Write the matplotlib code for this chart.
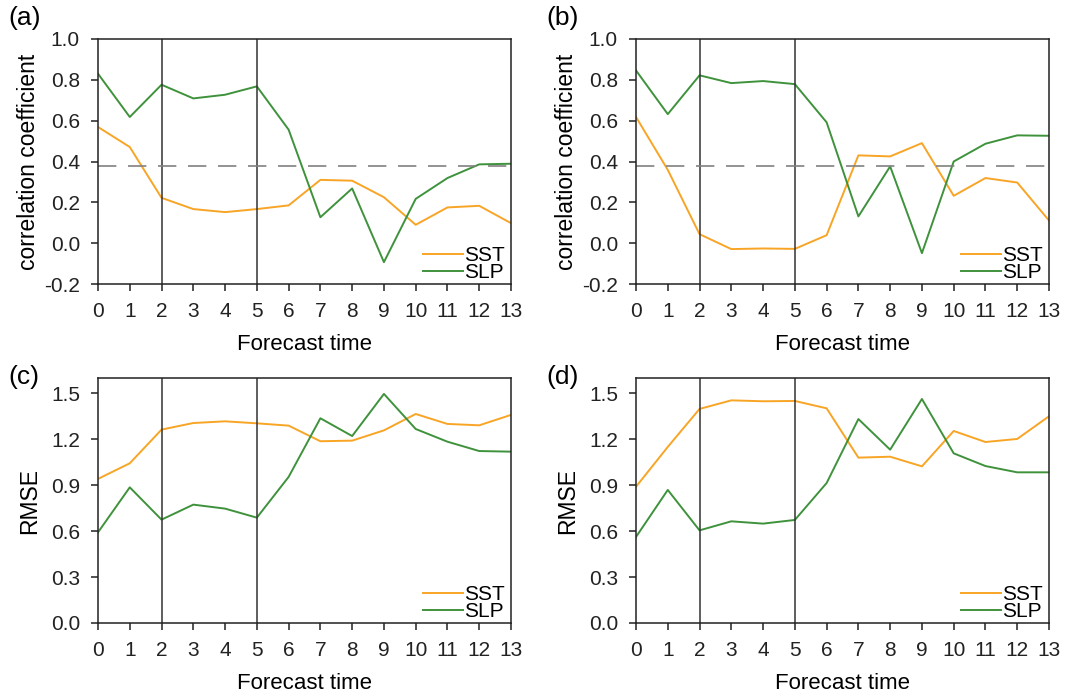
import matplotlib
matplotlib.use('Agg')
import matplotlib.pyplot as plt
import numpy as np

plt.rcParams['font.family'] = ['Liberation Sans', 'DejaVu Sans']

# forecast lead times
lead = list(range(14))

# (a) correlation coefficient
corr_a_sst = [0.569, 0.471, 0.222, 0.167, 0.152, 0.167, 0.185, 0.310, 0.306, 0.225, 0.090, 0.175, 0.183, 0.098]
corr_a_slp = [0.830, 0.618, 0.776, 0.709, 0.727, 0.768, 0.556, 0.127, 0.268, -0.093, 0.217, 0.319, 0.386, 0.389]

# (b) correlation coefficient
corr_b_sst = [0.618, 0.359, 0.044, -0.029, -0.026, -0.028, 0.039, 0.430, 0.425, 0.490, 0.232, 0.319, 0.297, 0.111]
corr_b_slp = [0.846, 0.632, 0.822, 0.784, 0.794, 0.779, 0.592, 0.131, 0.376, -0.049, 0.400, 0.487, 0.528, 0.526]

# (c) RMSE
rmse_c_sst = [0.941, 1.043, 1.263, 1.306, 1.317, 1.304, 1.289, 1.187, 1.191, 1.258, 1.365, 1.300, 1.291, 1.359]
rmse_c_slp = [0.592, 0.886, 0.675, 0.773, 0.747, 0.688, 0.954, 1.337, 1.221, 1.496, 1.267, 1.184, 1.123, 1.119]

# (d) RMSE
rmse_d_sst = [0.890, 1.150, 1.398, 1.454, 1.448, 1.450, 1.402, 1.080, 1.086, 1.023, 1.254, 1.182, 1.202, 1.350]
rmse_d_slp = [0.562, 0.869, 0.605, 0.664, 0.649, 0.673, 0.914, 1.332, 1.132, 1.463, 1.108, 1.025, 0.984, 0.984]

sig_level = 0.38
split_lines = [2, 5]
panel_labels = ['(a)', '(b)', '(c)', '(d)']

orange = '#F8A526'
green = '#3F923C'

fig = plt.figure(figsize=(10.79, 6.95), dpi=100)

W, H = 1079, 695
boxes = [(98, 39), (636, 39), (98, 378), (636, 378)]
label_pos = [(8, 18), (546, 18), (8, 377), (546, 377)]
aw, ah = 413, 245

panels = [
    (corr_a_sst, corr_a_slp, 'corr'),
    (corr_b_sst, corr_b_slp, 'corr'),
    (rmse_c_sst, rmse_c_slp, 'rmse'),
    (rmse_d_sst, rmse_d_slp, 'rmse'),
]

for i, ((sst, slp, kind), (x0, y0)) in enumerate(zip(panels, boxes)):
    ax = fig.add_axes([x0 / W, 1 - (y0 + ah) / H, aw / W, ah / H])
    ax.plot(lead, sst, color=orange, lw=1.4, label='SST')
    ax.plot(lead, slp, color=green, lw=1.4, label='SLP')
    for v in split_lines:
        ax.axvline(v, color='#333333', lw=1.1)
    ax.set_xlim(0, 13)
    ax.set_xticks(lead)
    if kind == 'corr':
        ax.axhline(sig_level, color='#808080', lw=1.2, dashes=(11, 7))
        ax.set_ylim(-0.2, 1.0)
        yt = np.arange(-0.2, 1.01, 0.2)
        ax.set_yticks(yt)
        ax.set_yticklabels(['%.1f' % v for v in yt])
        ax.set_ylabel('correlation coefficient', fontsize=16.5, labelpad=3)
    else:
        ax.set_ylim(0, 1.6)
        yt = np.arange(0, 1.51, 0.3)
        ax.set_yticks(yt)
        ax.set_yticklabels(['%.1f' % v for v in yt])
        ax.set_ylabel('RMSE', fontsize=16.5, labelpad=7)
    ax.set_xlabel('Forecast time', fontsize=16, labelpad=9)
    ax.tick_params(direction='out', length=5, width=1.1, labelsize=15, pad=8,
                   top=False, right=False, colors='#222222')
    for s in ax.spines.values():
        s.set_linewidth(1.1)
        s.set_color('#222222')
    ax.legend(loc='lower right', frameon=False, fontsize=15, handlelength=1.9,
              handletextpad=0.05, labelspacing=-0.1, borderaxespad=0.0,
              bbox_to_anchor=(1.005, -0.025))
    lx, ly = label_pos[i]
    fig.text(lx / W, 1 - ly / H, panel_labels[i], fontsize=19,
             ha='left', va='center')

fig.savefig('out.png', dpi=100)
